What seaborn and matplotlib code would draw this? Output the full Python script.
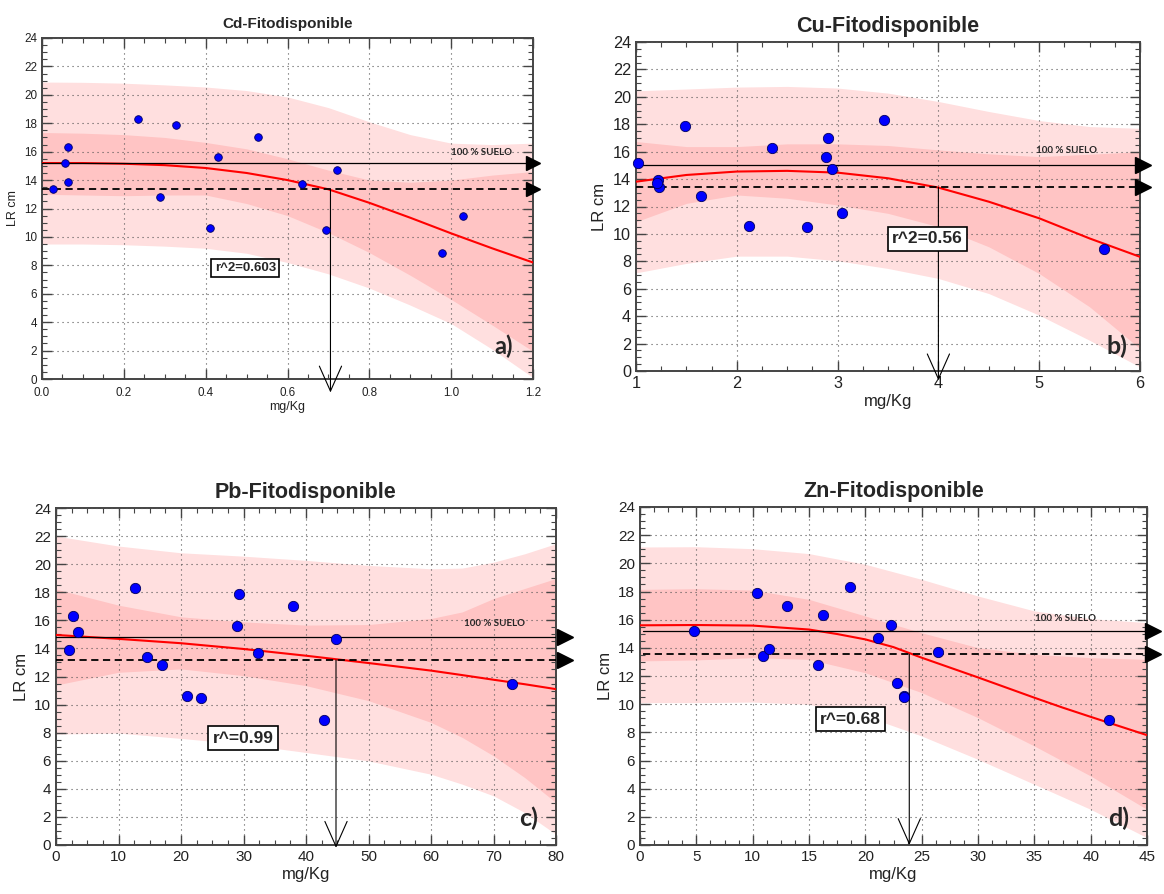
import matplotlib
matplotlib.use("Agg")
import matplotlib.pyplot as plt
import matplotlib.transforms as mtransforms
from matplotlib.ticker import MultipleLocator
import seaborn as sns

# ---------------------------------------------------------------- data
# root length (cm) of each sample; the same samples are used for every metal
lr_cm = [13.4, 15.2, 16.3, 13.9, 18.3, 12.8, 17.9, 10.6, 15.6, 17.0, 13.7, 10.5, 14.7, 8.9, 11.5]

# phyto-available concentration (mg/Kg) of each sample
cd_mgkg = [0.027, 0.055, 0.063, 0.063, 0.234, 0.288, 0.328, 0.410, 0.429, 0.529, 0.636, 0.695, 0.721, 0.978, 1.030]
cu_mgkg = [1.23, 1.02, 2.35, 1.22, 3.46, 1.64, 1.49, 2.12, 2.88, 2.90, 1.21, 2.70, 2.94, 5.64, 3.04]
pb_mgkg = [14.6, 3.44, 2.67, 2.08, 12.64, 16.9, 29.26, 20.95, 28.96, 37.86, 32.28, 23.26, 44.87, 42.85, 72.99]
zn_mgkg = [10.92, 4.76, 16.25, 11.48, 18.66, 15.82, 10.39, 23.4, 22.24, 13.07, 26.44, 23.43, 21.08, 41.63, 22.8]

# fitted curve, confidence band and prediction band
cd_x = [0.0, 0.1, 0.2, 0.3, 0.4, 0.5, 0.6, 0.7, 0.8, 0.9, 1.0, 1.1, 1.2]
cd_fit = [15.2, 15.2, 15.15, 15.05, 14.85, 14.5, 14.0, 13.35, 12.4, 11.35, 10.25, 9.2, 8.2]
cd_pred_hi = [20.9, 20.88, 20.82, 20.7, 20.55, 20.3, 19.85, 19.1, 18.1, 17.2, 16.6, 16.5, 16.6]
cd_pred_lo = [9.5, 9.5, 9.45, 9.35, 9.2, 8.85, 8.2, 7.4, 6.4, 5.2, 3.9, 2.1, 0.1]
cd_conf_hi = [17.35, 17.3, 17.2, 17.0, 16.65, 16.2, 15.5, 14.7, 14.0, 13.85, 14.0, 14.35, 14.6]
cd_conf_lo = [13.0, 12.95, 12.9, 12.95, 12.95, 12.35, 11.5, 10.3, 8.9, 7.3, 5.6, 3.8, 1.95]

cu_x = [1.0, 1.5, 2.0, 2.5, 3.0, 3.5, 4.0, 4.5, 5.0, 5.5, 6.0]
cu_fit = [13.81, 14.3, 14.55, 14.6, 14.47, 14.06, 13.38, 12.35, 11.14, 9.67, 8.33]
cu_pred_hi = [20.44, 20.57, 20.71, 20.76, 20.64, 20.27, 19.66, 18.93, 18.27, 17.83, 17.7]
cu_pred_lo = [7.16, 7.85, 8.38, 8.38, 8.04, 7.48, 6.75, 5.65, 4.07, 2.24, 0.29]
cu_conf_hi = [16.74, 16.37, 16.37, 16.57, 16.57, 16.45, 16.13, 15.84, 15.64, 15.81, 16.0]
cu_conf_lo = [10.89, 12.23, 12.84, 12.6, 12.11, 11.5, 10.53, 9.06, 7.11, 4.68, 1.63]

pb_x = [0, 10, 20, 30, 40, 50, 60, 65, 70, 75, 80]
pb_fit = [14.96, 14.68, 14.37, 13.96, 13.48, 12.96, 12.42, 12.1, 11.77, 11.45, 11.1]
pb_pred_hi = [22.0, 21.29, 20.81, 20.57, 20.27, 19.91, 19.67, 19.72, 20.14, 20.74, 21.46]
pb_pred_lo = [7.9, 7.97, 7.59, 7.18, 6.59, 5.99, 5.04, 4.33, 3.5, 2.31, 0.76]
pb_conf_hi = [18.22, 17.08, 16.25, 15.89, 15.66, 15.7, 16.13, 16.6, 17.55, 18.27, 18.98]
pb_conf_lo = [11.39, 12.3, 12.54, 12.06, 11.35, 10.28, 8.73, 7.66, 6.35, 4.8, 3.02]

zn_fit_x = [0, 5, 10, 15, 17.5, 20, 22.5, 25, 27.5, 30, 32.5, 35, 37.5, 40, 42.5, 45]
zn_fit = [15.6, 15.62, 15.58, 15.3, 14.98, 14.6, 14.05, 13.3, 12.6, 11.9, 11.18, 10.46, 9.76, 9.1, 8.45, 7.8]
zn_x = [0, 5, 10, 15, 20, 25, 30, 35, 40, 45]
zn_pred_hi = [21.16, 21.18, 21.04, 20.69, 19.93, 18.86, 17.68, 16.62, 16.07, 15.79]
zn_pred_lo = [10.11, 10.11, 10.15, 9.99, 9.16, 7.74, 6.08, 4.31, 2.53, 0.52]
zn_conf_hi = [18.15, 18.2, 18.1, 17.44, 16.26, 15.07, 14.01, 13.54, 13.3, 13.18]
zn_conf_lo = [13.07, 13.14, 13.3, 13.18, 12.23, 10.82, 9.04, 7.03, 4.9, 2.53]

# reference levels: 100 % soil (solid) and its reduced level (dashed)
suelo_level = [15.2, 15.0, 14.84, 15.22]
reduced_level = [13.35, 13.4, 13.18, 13.54]
cut_x = [0.705, 4.0, 44.8, 23.9]

titles = ["Cd-Fitodisponible", "Cu-Fitodisponible", "Pb-Fitodisponible", "Zn-Fitodisponible"]
r2_labels = ["r^2=0.603", "r^2=0.56", "r^=0.99", "r^=0.68"]
panel_tags = ["a)", "b)", "c)", "d)"]

# ---------------------------------------------------------------- style
sns.set_theme(style="ticks")
plt.rcParams["font.family"] = ["Liberation Sans", "DejaVu Sans"]
plt.rcParams["axes.edgecolor"] = "#444444"

PRED_COLOR = "#ffdfdf"
CONF_COLOR = "#ffc4c4"
NARROW = ["Liberation Sans Narrow", "Liberation Sans", "DejaVu Sans"]

fig = plt.figure(figsize=(11.64, 8.94), dpi=100)
fig.patch.set_facecolor("white")

panels = [
    dict(rect=[42, 38, 533, 379], xlim=(0, 1.2), major=0.2, minor=0.05, fmt="{:.1f}",
         x=cd_mgkg, fx=cd_x, fy=cd_fit, bx=cd_x,
         phi=cd_pred_hi, plo=cd_pred_lo, chi=cd_conf_hi, clo=cd_conf_lo,
         tick=8.4, lab=9, title=11, ms=30, r2=(0.497, 7.8), r2fs=9.5, suelo=(1.075, 15.95),
         tag=(0.94, 0.06), tagfs=17, tri=1.0, trims=10, xstart=0.0, tip=-0.95, xpad=5.5),
    dict(rect=[636, 42, 1140, 371], xlim=(1, 6), major=1, minor=0.25, fmt="{:.0f}",
         x=cu_mgkg, fx=cu_x, fy=cu_fit, bx=cu_x,
         phi=cu_pred_hi, plo=cu_pred_lo, chi=cu_conf_hi, clo=cu_conf_lo,
         tick=11.7, lab=12, title=15.5, ms=55, r2=(3.89, 9.64), r2fs=12.5, suelo=(5.27, 16.1),
         tag=(0.955, 0.04), tagfs=18, tri=1.005, trims=11, xstart=1.0, tip=-0.68, xpad=3.5),
    dict(rect=[56, 508, 556, 845], xlim=(0, 80), major=10, minor=2.5, fmt="{:.0f}",
         x=pb_mgkg, fx=pb_x, fy=pb_fit, bx=pb_x,
         phi=pb_pred_hi, plo=pb_pred_lo, chi=pb_conf_hi, clo=pb_conf_lo,
         tick=11, lab=12, title=15.5, ms=55, r2=(29.9, 7.6), r2fs=12.5, suelo=(70.1, 15.75),
         tag=(0.945, 0.045), tagfs=18, tri=1.018, trims=11, xstart=0.0, tip=-0.2, xpad=3.5),
    dict(rect=[640, 507, 1147, 845], xlim=(0, 45), major=5, minor=1.25, fmt="{:.0f}",
         x=zn_mgkg, fx=zn_fit_x, fy=zn_fit, bx=zn_x,
         phi=zn_pred_hi, plo=zn_pred_lo, chi=zn_conf_hi, clo=zn_conf_lo,
         tick=11, lab=12, title=15.5, ms=55, r2=(18.7, 8.93), r2fs=12.5, suelo=(37.8, 16.05),
         tag=(0.945, 0.045), tagfs=18, tri=1.011, trims=11, xstart=0.3, tip=0.0, xpad=3.5),
]

W, H = 1164, 894
for i, p in enumerate(panels):
    x0, y0, x1, y1 = p["rect"]
    ax = fig.add_axes([x0 / W, 1 - y1 / H, (x1 - x0) / W, (y1 - y0) / H])
    ax.set_facecolor("white")

    # prediction band, confidence band
    ax.fill_between(p["bx"], p["plo"], p["phi"], color=PRED_COLOR, lw=0, zorder=0.8)
    ax.fill_between(p["bx"], p["clo"], p["chi"], color=CONF_COLOR, lw=0, zorder=0.9)

    # fitted curve
    sns.lineplot(x=p["fx"], y=p["fy"], ax=ax, color="#ff0000", lw=1.5,
                 estimator=None, sort=False, zorder=3)

    # reference lines
    ax.plot([p["xstart"], p["xlim"][1]], [suelo_level[i]] * 2, color="black", lw=0.9, zorder=3)
    ax.plot([p["xstart"], p["xlim"][1]], [reduced_level[i]] * 2, color="black", lw=1.3,
            ls=(0, (4, 2.5)), zorder=3)
    trans = mtransforms.blended_transform_factory(ax.transAxes, ax.transData)
    ax.plot([p["tri"], p["tri"]], [suelo_level[i], reduced_level[i]], ls="none",
            marker=">", ms=p["trims"], color="black", transform=trans, clip_on=False, zorder=6)

    # drop line to the concentration axis
    ax.annotate("", xy=(cut_x[i], p["tip"]), xytext=(cut_x[i], reduced_level[i]),
                arrowprops=dict(arrowstyle="->,head_length=0.9,head_width=0.4",
                                lw=0.8, color="black", mutation_scale=20,
                                shrinkA=0, shrinkB=0),
                annotation_clip=False, zorder=3)

    # samples
    sns.scatterplot(x=p["x"], y=lr_cm, ax=ax, color="#0000ff", edgecolor="#000060",
                    s=p["ms"], linewidth=0.6, zorder=5, clip_on=False)

    # labels inside the plot
    ax.text(p["r2"][0], p["r2"][1], r2_labels[i], ha="center", va="center",
            fontsize=p["r2fs"], fontweight="bold", family=NARROW, zorder=7,
            bbox=dict(boxstyle="square,pad=0.25", fc="white", ec="black", lw=1.2))
    ax.text(p["suelo"][0], p["suelo"][1], "100 % SUELO", ha="center", va="center",
            fontsize=7, fontweight="bold", family=["Lato", "DejaVu Sans"], zorder=7)
    ax.text(p["tag"][0], p["tag"][1], panel_tags[i], transform=ax.transAxes,
            ha="center", va="bottom", fontsize=p["tagfs"], fontweight="bold",
            family=["Lato", "DejaVu Sans"], zorder=7)

    # axes
    ax.set_xlim(*p["xlim"])
    ax.set_ylim(0, 24)
    ax.xaxis.set_major_locator(MultipleLocator(p["major"]))
    ax.xaxis.set_minor_locator(MultipleLocator(p["minor"]))
    ax.yaxis.set_major_locator(MultipleLocator(2))
    ax.yaxis.set_minor_locator(MultipleLocator(0.5))
    fmt = p["fmt"]
    ax.xaxis.set_major_formatter(plt.FuncFormatter(lambda v, _, f=fmt: f.format(v)))
    ax.tick_params(which="both", direction="in", top=True, right=True,
                   colors="#444444", labelcolor="#222222", labelsize=p["tick"])
    ax.tick_params(axis="x", which="major", pad=p["xpad"])
    ax.tick_params(which="major", length=7, width=1.0)
    ax.tick_params(which="minor", length=3.5, width=0.8)
    for sp in ax.spines.values():
        sp.set_visible(True)
        sp.set_linewidth(1.4)
        sp.set_color("#444444")
    ax.set_axisbelow(False)
    ax.grid(True, which="major", color="#555555", lw=0.8, ls=(0, (1, 3.5)), zorder=1.5)

    ax.set_xlabel("mg/Kg", fontsize=p["lab"], color="#222222", labelpad=2)
    ax.set_ylabel("LR cm", fontsize=p["lab"], color="#222222", labelpad=4)
    ax.set_title(titles[i], fontsize=p["title"], fontweight="bold", pad=7)

fig.savefig("out.png", dpi=100, facecolor="white")
